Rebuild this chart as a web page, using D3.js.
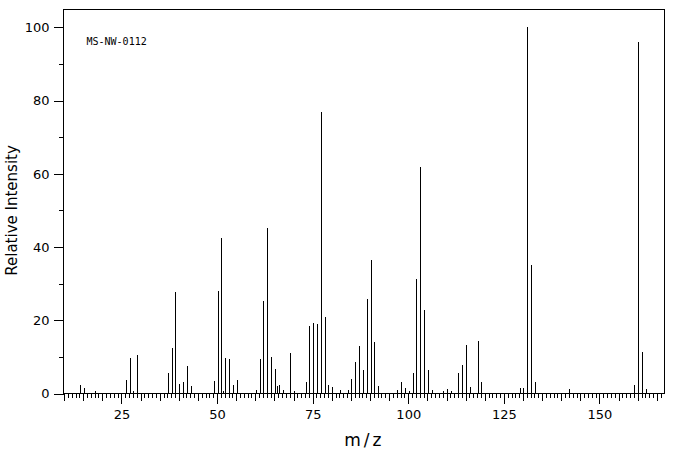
<!DOCTYPE html>
<html lang="en">
  <head>
    <meta charset="utf-8">
    <title>MS-NW-0112</title>
    <style>
      body { margin: 0; background: #fff; }
      .chart text { font-family: "DejaVu Sans", sans-serif; fill: #000; }
      .axis path, .axis line, .frame, .peak { stroke: #000; shape-rendering: crispEdges; }
      .axis text { font-size: 13px; }
    </style>
  </head>
  <body>
    <svg class="chart"></svg>

    <script src="https://cdn.jsdelivr.net/npm/d3@7"></script>
    <script type="text/javascript">
    // peaks (m/z, relative intensity)
    var mz = [14, 15, 18, 26, 27, 28, 29, 37, 38, 39, 40, 41, 42, 43,
              49, 50, 51, 51.5, 52, 53, 54, 55, 60, 61, 62, 63, 64, 65, 65.5, 66, 67, 69, 70,
              73, 74, 75, 76, 77, 78, 79, 80, 82, 84, 85, 86, 87, 88, 89, 90, 91, 92,
              97, 98, 99, 100, 101, 102, 103, 104, 105, 106, 109, 110, 111,
              113, 114, 115, 116, 118, 119, 129, 130, 131, 132, 133, 142,
              159, 160, 161, 162];
    var intensity = [2.3, 1.6, 0.7, 3.7, 9.8, 0.7, 10.5, 5.6, 12.4, 27.8, 2.6, 3.1, 7.5, 2.0,
              3.4, 28.0, 42.5, 0.7, 9.7, 9.4, 2.3, 3.7, 1.0, 9.5, 25.4, 45.2, 10.0, 6.7, 2.1, 2.3, 1.0, 11.1, 0.7,
              3.1, 18.4, 19.3, 19.0, 76.9, 20.9, 2.3, 1.8, 1.0, 1.0, 4.0, 8.6, 13.0, 6.4, 25.8, 36.5, 14.1, 2.0,
              1.0, 3.1, 1.5, 0.7, 5.6, 31.3, 61.9, 22.8, 6.4, 1.0, 0.7, 1.2, 0.7,
              5.6, 7.8, 13.2, 1.8, 14.3, 3.1, 1.5, 1.5, 100, 35.1, 3.1, 1.2,
              2.3, 95.9, 11.4, 1.2];
    var xTicks = [25, 50, 75, 100, 125, 150];
    var yTicks = [0, 20, 40, 60, 80, 100];
    var sampleId = "MS-NW-0112";

    var W = 676, H = 455;
    var margin = {top: 9.5, right: 11.5, bottom: 61.5, left: 63.5};
    var width = W - margin.left - margin.right,
        height = H - margin.top - margin.bottom;

    var x = d3.scaleLinear().domain([9.85, 167]).range([0, width]);
    var y = d3.scaleLinear().domain([0, 104.9]).range([height, 0]);

    var svg = d3.select(".chart").attr("width", W).attr("height", H);
    var chart = svg.append("g")
        .attr("transform", "translate(" + margin.left + "," + margin.top + ")");

    var data = mz.map(function(m, i) { return {mz: m, v: intensity[i]}; });

    // x axis: minor every 1, medium every 5, major (labelled) every 25
    var minorX = d3.range(10, 167, 1).filter(function(d) { return d % 5 !== 0; });
    var midX = d3.range(10, 167, 5).filter(function(d) { return d % 25 !== 0; });

    chart.append("g").attr("class", "x axis")
        .attr("transform", "translate(0," + height + ")")
        .call(d3.axisBottom(x).tickValues(minorX).tickSize(4).tickFormat("").tickSizeOuter(0));
    chart.append("g").attr("class", "x axis")
        .attr("transform", "translate(0," + height + ")")
        .call(d3.axisBottom(x).tickValues(midX).tickSize(7).tickFormat("").tickSizeOuter(0));
    chart.append("g").attr("class", "x axis")
        .attr("transform", "translate(0," + height + ")")
        .call(d3.axisBottom(x).tickValues(xTicks).tickSize(10).tickPadding(6).tickSizeOuter(0));

    // y axis: labelled every 20, minor every 10
    var minorY = d3.range(10, 101, 20);
    chart.append("g").attr("class", "y axis")
        .call(d3.axisLeft(y).tickValues(minorY).tickSize(5).tickFormat("").tickSizeOuter(0));
    chart.append("g").attr("class", "y axis")
        .call(d3.axisLeft(y).tickValues(yTicks).tickSize(10).tickPadding(4).tickSizeOuter(0));

    chart.selectAll(".axis path").remove();

    // frame
    chart.append("rect")
        .attr("class", "frame")
        .attr("x", 0).attr("y", 0)
        .attr("width", width).attr("height", height)
        .attr("fill", "none");

    // peaks
    chart.selectAll(".peak")
        .data(data)
      .enter().append("line")
        .attr("class", "peak")
        .attr("x1", function(d) { return Math.round(x(d.mz)) + 0.5; })
        .attr("x2", function(d) { return Math.round(x(d.mz)) + 0.5; })
        .attr("y1", y(0))
        .attr("y2", function(d) { return y(d.v); })
        .attr("stroke-width", 1);

    chart.append("text")
        .attr("x", 23).attr("y", 35)
        .style("font-family", "'DejaVu Sans Mono', monospace")
        .style("font-size", "10px")
        .text(sampleId);

    chart.append("text")
        .attr("x", x(88.5)).attr("y", height + 52)
        .attr("text-anchor", "middle")
        .style("font-size", "17px")
        .style("letter-spacing", "3px")
        .text("m/z");

    svg.append("text")
        .attr("transform", "translate(17," + (margin.top + y(50)) + ") rotate(-90)")
        .attr("text-anchor", "middle")
        .style("font-size", "15px")
        .text("Relative Intensity");
    </script>
  </body>
</html>
